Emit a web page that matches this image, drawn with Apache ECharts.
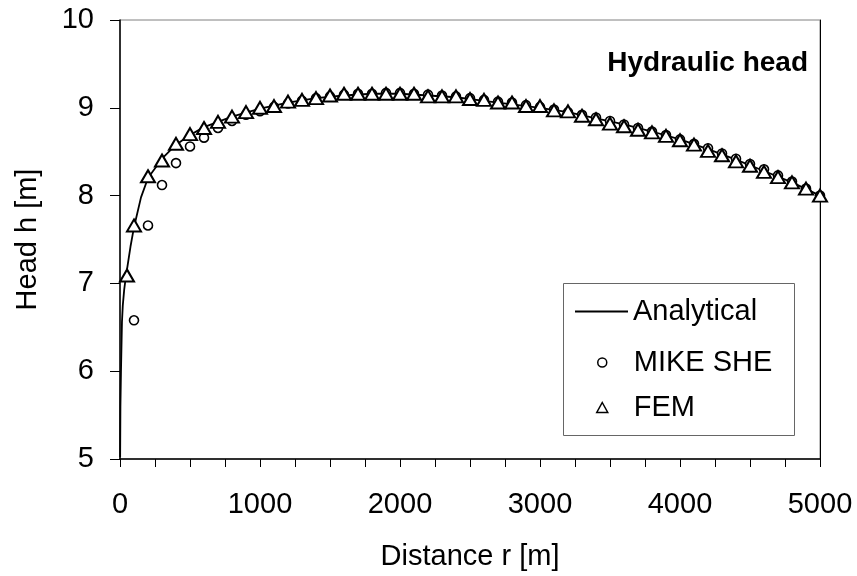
<!DOCTYPE html>
<html>
<head>
<meta charset="utf-8">
<script src="https://cdn.jsdelivr.net/npm/echarts@6/dist/echarts.min.js"></script>
<style>
  html, body { margin: 0; padding: 0; background: #fff; }
  #chart { width: 857px; height: 576px; }
</style>
</head>
<body>
<div id="chart"></div>
<script>
"use strict";

// analytical solution
var anaR = [1, 3, 7, 14, 20, 30, 43, 50, 75, 100, 150, 200, 300, 400, 500, 600, 800, 1000, 1200, 1400, 1600, 1800,
    2000, 2200, 2400, 2600, 2800, 3000, 3200, 3400, 3600, 3800, 4000, 4200, 4400, 4600, 4800, 5000];
var anaH = [5.02, 5.6, 6.0, 6.56, 6.75, 6.93, 7.09, 7.16, 7.42, 7.64, 7.98, 8.2, 8.42, 8.58, 8.69, 8.78, 8.9, 8.99, 9.06, 9.11, 9.14, 9.16,
    9.16, 9.14, 9.12, 9.08, 9.04, 9.0, 8.95, 8.88, 8.81, 8.73, 8.64, 8.53, 8.41, 8.28, 8.15, 8.0];

// MIKE SHE, every 100 m
var mikeR = [100, 200, 300, 400, 500, 600, 700, 800, 900, 1000, 1100, 1200, 1300, 1400, 1500, 1600, 1700, 1800, 1900, 2000,
    2100, 2200, 2300, 2400, 2500, 2600, 2700, 2800, 2900, 3000, 3100, 3200, 3300, 3400, 3500, 3600, 3700, 3800, 3900, 4000,
    4100, 4200, 4300, 4400, 4500, 4600, 4700, 4800, 4900, 5000];
var mikeH = [6.58, 7.66, 8.12, 8.37, 8.56, 8.66, 8.77, 8.85, 8.92, 8.96, 9.01, 9.05, 9.08, 9.11, 9.13, 9.15, 9.16, 9.16, 9.17, 9.17,
    9.16, 9.15, 9.14, 9.13, 9.11, 9.09, 9.07, 9.06, 9.03, 9.01, 8.98, 8.95, 8.92, 8.89, 8.85, 8.81, 8.77, 8.73, 8.69, 8.64,
    8.59, 8.54, 8.48, 8.42, 8.36, 8.30, 8.23, 8.16, 8.08, 8.0];

// FEM nodes
var femR = [50, 100, 200, 300, 400, 500, 600, 700, 800, 900, 1000, 1100, 1200, 1300, 1400, 1500, 1600, 1700, 1800, 1900, 2000,
    2100, 2200, 2300, 2400, 2500, 2600, 2700, 2800, 2900, 3000, 3100, 3200, 3300, 3400, 3500, 3600, 3700, 3800, 3900, 4000,
    4100, 4200, 4300, 4400, 4500, 4600, 4700, 4800, 4900, 5000];
var femH = [7.09, 7.66, 8.22, 8.40, 8.59, 8.70, 8.77, 8.84, 8.90, 8.95, 9.00, 9.02, 9.07, 9.09, 9.11, 9.14, 9.16, 9.16, 9.16, 9.16, 9.16,
    9.16, 9.13, 9.13, 9.13, 9.10, 9.09, 9.06, 9.06, 9.02, 9.02, 8.97, 8.96, 8.91, 8.87, 8.82, 8.79, 8.75, 8.72, 8.68, 8.63,
    8.58, 8.51, 8.46, 8.39, 8.34, 8.27, 8.21, 8.15, 8.08, 8.00];

var xMin = 0, xMax = 5000, xStep = 250;
var yMin = 5, yMax = 10, yStep = 1;

function pairs(xs, ys) {
    var out = [];
    for (var i = 0; i < xs.length; i++) out.push([xs[i], ys[i]]);
    return out;
}

var FONT = "'Liberation Sans', Arial, sans-serif";
var FS = 29;
var txt = { fontFamily: FONT, fontSize: FS, color: '#000' };

var chart = echarts.init(document.getElementById('chart'), null, { renderer: 'canvas' });

chart.setOption({
    animation: false,
    backgroundColor: '#fff',
    title: {
        text: 'Hydraulic head',
        right: 49,
        top: 49,
        padding: 0,
        textStyle: { fontFamily: FONT, fontSize: 28, fontWeight: 'bold', color: '#000' }
    },
    grid: {
        left: 120, right: 37, top: 20, bottom: 115,
        show: true, borderColor: '#808080', borderWidth: 1
    },
    legend: [
        {
            left: 575, top: 297, padding: 0, itemWidth: 53, itemHeight: 2,
            textStyle: txt,
            data: [{ name: 'Analytical', icon: 'rect', itemStyle: { color: '#000', borderWidth: 0 } }]
        },
        {
            left: 597, top: 348, padding: 0, itemWidth: 9, itemHeight: 9,
            textStyle: { fontFamily: FONT, fontSize: FS, color: '#000', padding: [0, 0, 0, 22] },
            data: [{ name: 'MIKE SHE', icon: 'circle', itemStyle: { color: '#fff', borderColor: '#000', borderWidth: 1.5 } }]
        },
        {
            left: 596, top: 393, padding: 0, itemWidth: 11, itemHeight: 10,
            textStyle: { fontFamily: FONT, fontSize: FS, color: '#000', padding: [0, 0, 0, 21] },
            data: [{ name: 'FEM', icon: 'triangle', itemStyle: { color: '#fff', borderColor: '#000', borderWidth: 1.5 } }]
        }
    ],
    graphic: [{
        type: 'rect',
        shape: { x: 563.5, y: 283.5, width: 231, height: 152 },
        style: { fill: 'rgba(0,0,0,0)', stroke: '#666', lineWidth: 1 },
        z: 50
    }],
    xAxis: {
        type: 'value',
        min: xMin, max: xMax, interval: xStep,
        name: 'Distance r [m]',
        nameLocation: 'middle',
        nameGap: 83,
        nameTextStyle: txt,
        axisLine: { lineStyle: { color: '#000', width: 1.5 } },
        axisTick: { show: true, length: 8, lineStyle: { color: '#000', width: 1 } },
        axisLabel: {
            margin: 31, fontFamily: FONT, fontSize: FS, color: '#000',
            formatter: function (v) { return v % 1000 === 0 ? String(v) : ''; }
        },
        splitLine: { show: false }
    },
    yAxis: [
        {
            type: 'value',
            min: yMin, max: yMax, interval: yStep,
            name: 'Head h [m]',
            nameLocation: 'middle',
            nameGap: 78,
            nameTextStyle: txt,
            axisLine: { lineStyle: { color: '#000', width: 1.5 } },
            axisTick: { show: true, length: 10, lineStyle: { color: '#000', width: 1 } },
            axisLabel: { margin: 26, fontFamily: FONT, fontSize: FS, color: '#000' },
            splitLine: { show: false }
        },
        {
            // right frame edge
            type: 'value', position: 'right',
            min: yMin, max: yMax, interval: yStep,
            axisLine: { show: true, lineStyle: { color: '#000', width: 1 } },
            axisTick: { show: false },
            axisLabel: { show: false },
            splitLine: { show: false }
        }
    ],
    series: [
        {
            name: 'Analytical',
            type: 'line',
            data: pairs(anaR, anaH),
            showSymbol: false,
            symbol: 'none',
            lineStyle: { color: '#000', width: 1.8 },
            itemStyle: { color: '#000' },
            z: 2
        },
        {
            name: 'MIKE SHE',
            type: 'scatter',
            data: pairs(mikeR, mikeH),
            symbol: 'circle',
            symbolSize: 9,
            itemStyle: { color: '#fff', borderColor: '#000', borderWidth: 1.6, opacity: 1 },
            z: 3
        },
        {
            name: 'FEM',
            type: 'scatter',
            data: pairs(femR, femH),
            symbol: 'triangle',
            symbolSize: [14, 12],
            itemStyle: { color: '#fff', borderColor: '#000', borderWidth: 2, opacity: 1 },
            z: 4
        }
    ]
});
</script>
</body>
</html>
